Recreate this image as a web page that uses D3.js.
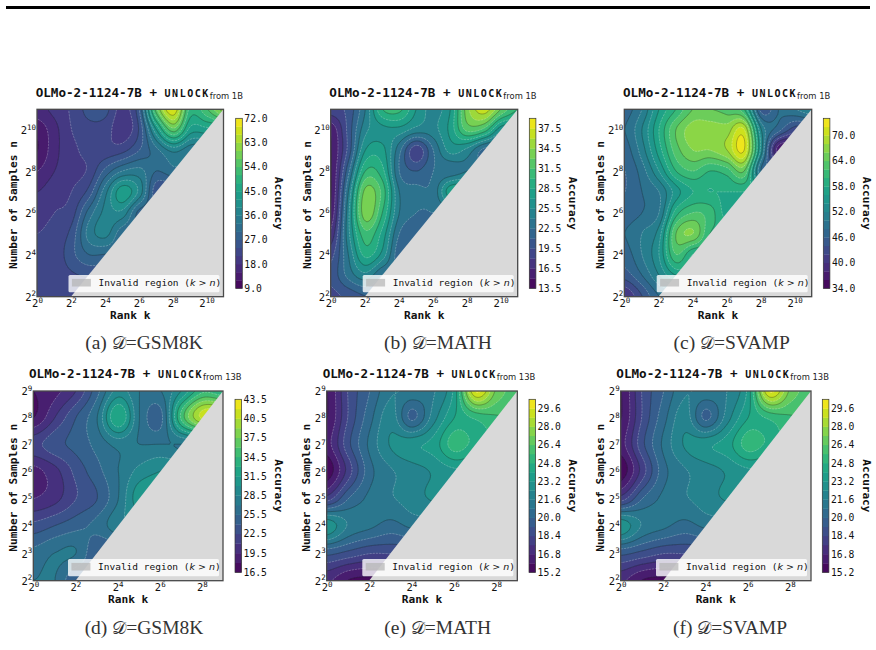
<!DOCTYPE html>
<html>
<head>
<meta charset="utf-8">
<script src="https://cdn.jsdelivr.net/npm/d3@7"></script>
<style>
  html, body { margin: 0; padding: 0; background: #fff; }
  svg { display: block; }
  text { font-family: "DejaVu Sans Mono", monospace; fill: #111; }
</style>
</head>
<body>
<svg id="fig" width="876" height="650"></svg>
<script>
// Accuracy by log2(rank k) and log2(samples n). Rows run from the largest n down to n = 2^2;
// each row lists k = 2^0 .. 2^n (only the valid region k <= n).
const gsm8k1B = [
  [17, 19, 21.5, 25, 25, 20, 27, 56, 69, 50, 54, 62],
  [13, 17, 21, 23, 22.5, 19, 24.5, 42, 56, 44, 44],
  [12, 17, 20, 22, 22, 23, 27, 32, 37, 34],
  [15, 18, 20, 21.5, 28, 33, 34, 30, 32],
  [18, 20, 21, 25, 35, 44, 38, 25],
  [20, 21, 22.5, 31, 37, 38, 29],
  [21, 22, 25, 34, 37, 31],
  [22, 22, 26, 30, 30],
  [22, 22, 23.5, 24.5],
  [22, 22, 22]
];
const math1B = [
  [19, 20, 24, 30, 30.5, 27, 25, 27, 34, 37, 33, 30],
  [15.5, 20, 25, 26.5, 26.5, 25, 25, 27.5, 32, 31, 26],
  [15, 20, 27, 27.5, 23, 18.5, 22.5, 26, 25, 22],
  [15, 22, 30, 29, 22.5, 21, 22.5, 23, 24],
  [15, 24, 33.5, 31, 24, 23, 23, 28],
  [15.5, 25, 34, 30, 24, 22.5, 22.5],
  [17, 25, 31, 28, 22.5, 21.5],
  [19, 24, 29, 26.5, 21.5],
  [20, 23, 25, 22.5],
  [19, 20, 21]
];
const svamp1B = [
  [47, 50, 56, 60, 64, 64, 63, 60, 45, 48, 50, 52],
  [48, 52, 58, 64, 67, 67, 67, 70, 52, 47, 43],
  [47, 51, 57, 63, 66, 66, 68, 72, 53, 37],
  [46, 49, 54, 60, 62, 60, 61, 64, 48],
  [46, 48, 50, 55, 58, 58, 58, 58],
  [47, 48, 50, 59, 62, 61, 57],
  [48, 50, 53, 64, 66, 60],
  [47, 50, 54, 62, 58],
  [45, 48, 52, 56],
  [40, 44, 48]
];
const gsm8k13B = [
  [18, 19, 21, 25, 29, 27, 27, 30, 34, 33],
  [18, 21, 24, 27, 33, 27, 25, 35, 41],
  [22, 23.5, 24.5, 26, 27.5, 27, 27, 27],
  [19, 20.5, 23, 25, 27, 29, 30],
  [19.5, 20.5, 22.5, 24, 27, 31],
  [23, 24, 25, 26, 28],
  [26, 27, 27, 24],
  [27, 27, 24]
];
const math13B = [
  [16, 18.5, 20, 21.5, 21.5, 21.5, 23.5, 29.8, 27, 26],
  [16, 18.5, 20.5, 22, 19.8, 22, 24, 25, 25.5],
  [16.5, 19, 21, 22.5, 23, 23.5, 25.2, 24.5],
  [15.5, 18, 20.5, 21.5, 22, 22.5, 23],
  [18, 20, 21, 21.5, 22, 22.5],
  [23, 21.5, 21, 20.5, 21],
  [19.5, 19, 18.5, 18.5],
  [17, 16, 15.8]
];
const svamp13B = [
  [16, 18.5, 20, 21.5, 21.5, 21.6, 23.5, 29.8, 27, 26],
  [16, 18.5, 20.5, 22, 19.8, 22, 24, 25, 25.5],
  [16.5, 19, 21, 22.5, 23, 23.6, 25.2, 24.6],
  [15.5, 18, 20.5, 21.5, 22, 22.5, 23],
  [18, 20, 21, 21.5, 22, 22.5],
  [23, 21.5, 21, 20.5, 21],
  [19.5, 19, 18.5, 18.5],
  [17, 16, 15.8]
];

const topKTicks = [0, 2, 4, 6, 8, 10];
const topNTicks = [2, 4, 6, 8, 10];
const lowKTicks = [0, 2, 4, 6, 8];
const lowNTicks = [2, 3, 4, 5, 6, 7, 8, 9];

const barTicksGsm1B = [9, 18, 27, 36, 45, 54, 63, 72];
const barTicksMath1B = [13.5, 16.5, 19.5, 22.5, 25.5, 28.5, 31.5, 34.5, 37.5];
const barTicksSvamp1B = [34, 40, 46, 52, 58, 64, 70];
const barTicksGsm13B = [16.5, 19.5, 22.5, 25.5, 28.5, 31.5, 34.5, 37.5, 40.5, 43.5];
const barTicksLow13B = [15.2, 16.8, 18.4, 20, 21.6, 23.2, 24.8, 26.4, 28, 29.6];

const captions = ["(a) ", "(b) ", "(c) ", "(d) ", "(e) ", "(f) "];
const datasets = ["GSM8K", "MATH", "SVAMP", "GSM8K", "MATH", "SVAMP"];

// Subplot placement on the page.
const panels = [
  { grid: gsm8k1B,  lo: 9,    hi: 72,   step: 3,   ticks: barTicksGsm1B,   x0: 37,    x1: 223.5, row: 0, bar: 235.7, yl: 12.7,  cb: 275,   tx: 35.7,  cap: 144,   from: "from 1B" },
  { grid: math1B,   lo: 13.5, hi: 39,   step: 1.5, ticks: barTicksMath1B,  x0: 330.7, x1: 517.7, row: 0, bar: 529.3, yl: 306.7, cb: 569,   tx: 329.3, cap: 438,   from: "from 1B" },
  { grid: svamp1B,  lo: 34,   hi: 74,   step: 2,   ticks: barTicksSvamp1B, x0: 624.3, x1: 811.7, row: 0, bar: 823.3, yl: 600,   cb: 862.7, tx: 623,   cap: 731.7, from: "from 1B" },
  { grid: gsm8k13B, lo: 16.5, hi: 43.5, step: 1.5, ticks: barTicksGsm13B,  x0: 33.3,  x1: 223,   row: 1, bar: 235,   yl: 12.7,  cb: 275,   tx: 29,    cap: 144,   from: "from 13B" },
  { grid: math13B,  lo: 15.2, hi: 30.4, step: 0.8, ticks: barTicksLow13B,  x0: 326.7, x1: 517.3, row: 1, bar: 529,   yl: 306,   cb: 569,   tx: 322.7, cap: 437.7, from: "from 13B" },
  { grid: svamp13B, lo: 15.2, hi: 30.4, step: 0.8, ticks: barTicksLow13B,  x0: 620.7, x1: 811,   row: 1, bar: 822.3, yl: 600,   cb: 862.7, tx: 616.3, cap: 730,   from: "from 13B" }
];
const rows = [
  { y0: 109.3, y1: 296.7, barTop: 118.3, barBot: 288.3, title: 96.7, xl: 318.5, capY: 349, kMax: 11, kTicks: topKTicks, nTicks: topNTicks },
  { y0: 391,   y1: 580.7, barTop: 399.3, barBot: 572.3, title: 378,  xl: 602.5, capY: 634, kMax: 9,  kTicks: lowKTicks, nTicks: lowNTicks }
];

const svg = d3.select("#fig");
svg.append("rect").attr("width", 876).attr("height", 650).attr("fill", "#fff");
svg.append("rect").attr("x", 6).attr("y", 6).attr("width", 864).attr("height", 3).attr("fill", "#000");

// Catmull-Rom weights for the cubic surface through the table values.
function cubic(p0, p1, p2, p3, t) {
  return 0.5 * (2 * p1 + (p2 - p0) * t + (2 * p0 - 5 * p1 + 4 * p2 - p3) * t * t + (3 * p1 - p0 - 3 * p2 + p3) * t * t * t);
}

// Samples the table on a fine raster so the contour bands come out smooth.
function surface(grid, kMax, density, pad) {
  const nMax = kMax;
  const cell = (k, n) => {
    const nc = Math.max(2, Math.min(nMax, n));
    const row = grid[nMax - nc];
    return row[Math.max(0, Math.min(row.length - 1, k))];
  };
  const w = (kMax + 2 * pad) * density + 1;
  const h = (nMax - 2 + 2 * pad) * density + 1;
  const values = new Float64Array(w * h);
  for (let j = 0; j < h; j++) {
    const n = 2 - pad + j / density;
    const nf = Math.floor(n), tn = n - nf;
    for (let i = 0; i < w; i++) {
      const k = -pad + i / density;
      const kf = Math.floor(k), tk = k - kf;
      const across = [-1, 0, 1, 2].map(dn =>
        cubic(cell(kf - 1, nf + dn), cell(kf, nf + dn), cell(kf + 1, nf + dn), cell(kf + 2, nf + dn), tk));
      values[j * w + i] = cubic(across[0], across[1], across[2], across[3], tn);
    }
  }
  return { values, w, h };
}

function powerLabel(sel, anchor) {
  sel.each(function (d) {
    const t = d3.select(this).text(null).attr("text-anchor", anchor)
      .attr("font-family", "DejaVu Sans Mono").attr("fill", "#111");
    t.append("tspan").attr("font-size", 10.5).text("2");
    t.append("tspan").attr("font-size", 7.5).attr("dy", -4.5).text(d);
  });
}

panels.forEach((p, idx) => {
  const r = rows[p.row];
  const x = d3.scaleLinear().domain([0, r.kMax]).range([p.x0, p.x1]);
  const y = d3.scaleLinear().domain([2, r.kMax]).range([r.y1, r.y0]);

  const levels = d3.range(Math.round((p.hi - p.lo) / p.step) + 1).map(i => p.lo + i * p.step);
  const bands = levels.slice(0, -1);
  const color = i => d3.interpolateViridis((i + 0.5) / bands.length);

  const density = 14, pad = 1;
  const s = surface(p.grid, r.kMax, density, pad);
  // Raster cell -> page coordinates through the axis scales.
  const project = d3.geoTransform({
    point(px, py) {
      this.stream.point(x(px / density - pad), y(2 - pad + py / density));
    }
  });
  const path = d3.geoPath(project);
  const contours = d3.contours().size([s.w, s.h]).thresholds(bands).smooth(true)(s.values);

  const clipId = "plot-" + idx;
  svg.append("clipPath").attr("id", clipId).append("rect")
    .attr("x", p.x0).attr("y", r.y0).attr("width", p.x1 - p.x0).attr("height", r.y1 - r.y0);
  const plot = svg.append("g").attr("clip-path", `url(#${clipId})`);

  plot.append("rect").attr("x", p.x0).attr("y", r.y0).attr("width", p.x1 - p.x0).attr("height", r.y1 - r.y0).attr("fill", color(0));
  plot.selectAll("path.band").data(contours).join("path").attr("class", "band")
    .attr("d", path).attr("fill", (d, i) => color(i)).attr("stroke", (d, i) => color(i)).attr("stroke-width", 0.3);
  plot.selectAll("path.iso").data(contours.slice(1)).join("path").attr("class", "iso")
    .attr("d", path).attr("fill", "none")
    .attr("stroke", (d, i) => i % 2 ? "rgba(255,255,255,0.36)" : "rgba(30,30,30,0.34)")
    .attr("stroke-width", (d, i) => i % 2 ? 0.7 : 0.9)
    .attr("stroke-dasharray", (d, i) => i % 2 ? "2.4 0.8" : null);

  // Region where the rank exceeds the sample count.
  const line = d3.line().x(d => x(d[0])).y(d => y(d[1]));
  plot.append("path").attr("d", line([[2, 2], [r.kMax, r.kMax], [r.kMax, 2]]) + "Z").attr("fill", "#d9d9d9");

  // Axes
  const gx = svg.append("g").attr("transform", `translate(0,${r.y1})`)
    .call(d3.axisBottom(x).tickValues(r.kTicks).tickSize(0).tickPadding(0));
  gx.select(".domain").remove();
  gx.selectAll("text").attr("dy", null).attr("y", 10.5).call(powerLabel, "middle");
  const gy = svg.append("g").attr("transform", `translate(${p.x0},0)`)
    .call(d3.axisLeft(y).tickValues(r.nTicks).tickSize(0).tickPadding(0));
  gy.select(".domain").remove();
  gy.selectAll("text").attr("dy", null).attr("x", -1).attr("y", 3.5).call(powerLabel, "end");

  svg.append("rect").attr("x", p.x0).attr("y", r.y0).attr("width", p.x1 - p.x0).attr("height", r.y1 - r.y0)
    .attr("fill", "none").attr("stroke", "#4a4a4a").attr("stroke-width", 1.3);

  // Legend
  const lx = p.x1 - 155, ly = r.y1 - 21.8;
  svg.append("rect").attr("x", lx).attr("y", ly).attr("width", 151).attr("height", 17.4).attr("rx", 1.5)
    .attr("fill", "rgba(255,255,255,0.8)");
  svg.append("rect").attr("x", lx + 3.4).attr("y", ly + 4).attr("width", 19).attr("height", 7.6)
    .attr("fill", "rgba(180,180,180,0.7)");
  const lt = svg.append("text").attr("x", lx + 30).attr("y", ly + 10.8).attr("font-size", 9.5).attr("fill", "#333");
  lt.append("tspan").text("Invalid region (");
  lt.append("tspan").attr("font-style", "italic").attr("font-family", "DejaVu Sans").text("k");
  lt.append("tspan").attr("font-family", "DejaVu Sans").text(" > ");
  lt.append("tspan").attr("font-style", "italic").attr("font-family", "DejaVu Sans").text("n");
  lt.append("tspan").text(")");

  // Colour bar
  const barW = 6.6;
  const bar = d3.scaleLinear().domain([p.lo, p.hi]).range([r.barBot, r.barTop]);
  svg.append("g").selectAll("rect").data(bands).join("rect")
    .attr("x", p.bar).attr("width", barW)
    .attr("y", d => bar(d + p.step)).attr("height", d => bar(d) - bar(d + p.step) + 0.3)
    .attr("fill", (d, i) => color(i));
  svg.append("rect").attr("x", p.bar).attr("y", r.barTop).attr("width", barW).attr("height", r.barBot - r.barTop)
    .attr("fill", "none").attr("stroke", "#333").attr("stroke-width", 0.7);
  const gb = svg.append("g").attr("transform", `translate(${p.bar + barW},0)`)
    .call(d3.axisRight(bar).tickValues(p.ticks).tickSize(0).tickPadding(2).tickFormat(d3.format(".1f")));
  gb.select(".domain").remove();
  gb.selectAll("text").attr("font-family", "DejaVu Sans Mono").attr("font-size", 9.7).attr("fill", "#111");

  svg.append("text").attr("transform", `translate(${p.cb},${(r.barTop + r.barBot) / 2}) rotate(90)`)
    .attr("text-anchor", "middle").attr("font-size", 11).attr("font-weight", "bold").text("Accuracy");

  // Axis titles
  svg.append("text").attr("x", (p.x0 + p.x1) / 2).attr("y", r.xl).attr("text-anchor", "middle")
    .attr("font-size", 11.2).attr("font-weight", "bold").text("Rank k");
  svg.append("text").attr("transform", `translate(${p.yl + 4},${(r.y0 + r.y1) / 2 + 2}) rotate(-90)`)
    .attr("text-anchor", "middle").attr("font-size", 11.2).attr("font-weight", "bold").text("Number of Samples n");

  // Panel title
  const tt = svg.append("text").attr("x", p.tx).attr("y", r.title).attr("font-weight", "bold").attr("font-size", 12.6);
  tt.append("tspan").text("OLMo-2-1124-7B + ");
  tt.append("tspan").attr("font-size", 10).attr("letter-spacing", 1.5).text("UNLOCK");
  tt.append("tspan").attr("font-family", "DejaVu Sans").attr("font-weight", "normal").attr("font-size", 8.4)
    .attr("dy", 2).attr("fill", "#222").text(p.from);

  // Subfigure caption
  const cap = svg.append("text").attr("x", p.cap).attr("y", r.capY).attr("text-anchor", "middle")
    .attr("font-size", 19.5).style("font-family", "'Liberation Serif', serif").style("fill", "#333");
  cap.append("tspan").text(captions[idx]);
  cap.append("tspan").style("font-family", "'DejaVu Sans', 'Noto Sans', serif").attr("font-size", 18).text("\u{1D49F}");
  cap.append("tspan").text("=" + datasets[idx]);
});
</script>
</body>
</html>
